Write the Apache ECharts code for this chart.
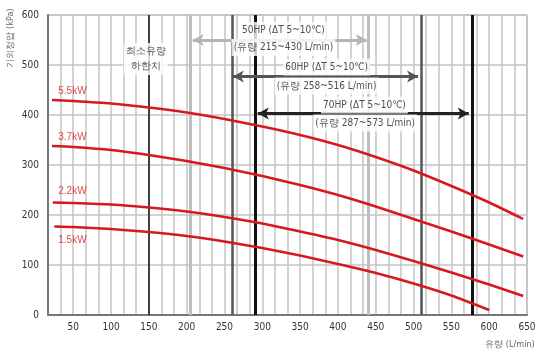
<!DOCTYPE html>
<html><head><meta charset="utf-8">
<script src="https://cdn.jsdelivr.net/npm/echarts@6/dist/echarts.min.js"></script>
<style>html,body{margin:0;padding:0;background:#fff}#c{width:540px;height:359px}</style>
</head><body><div id="c"></div>
<script>
// ---- data ----
const xTickLabels = [50,100,150,200,250,300,350,400,450,500,550,600,650];
const yTickLabels = [0,100,200,300,400,500,600];
const curveNames = ['5.5kW','3.7kW','2.2kW','1.5kW'];
const curve55 = [[22,430],[50,428],[100,423],[150,415],[200,405],[250,392],[300,377],[350,360],[400,340],[450,316],[500,289],[550,258],[600,225],[645,192]];
const curve37 = [[22,338],[50,336],[100,330],[150,320],[200,308],[250,294],[300,278],[350,260],[400,240],[450,217],[500,192],[550,167],[600,141],[645,117]];
const curve22 = [[23,225],[50,224],[100,221],[150,215],[200,207],[250,196],[300,183],[350,167],[400,150],[450,130],[500,108],[550,85],[600,61],[645,38]];
const curve15 = [[25,177],[50,176],[100,172],[150,166],[200,158],[250,147],[300,134],[350,119],[400,102],[450,84],[500,63],[550,39],[600,10]];
const minFlowLine = 150;
const hp50Lines = [205,440];
const hp60Lines = [260,510];
const hp70Lines = [291,577];
const hp50Arrow = [208,438,550];
const hp60Arrow = [261,506,477];
const hp70Arrow = [294,573,403];
const annotTexts = ['50HP (\u0394T 5~10\u2103)','(유량 215~430 L/min)','60HP (\u0394T 5~10\u2103)','(유량 258~516 L/min)','70HP (\u0394T 5~10\u2103)','(유량 287~573 L/min)','최소유량\n하한치'];
const annotAt = [[328,569],[328,535],[385,496],[385,458],[435,420],[436,384],[146,512]];
const curveLabelAt = [[49,447],[49,355],[49,248],[49,150]];

const NARROW = "'Liberation Sans Narrow','Arial Narrow','DejaVu Sans Condensed',sans-serif";
const RED = '#d7191f';

function vline(x, color, width){
  return {xAxis:x, lineStyle:{color:color,width:width,type:'solid'}};
}
function arrow(a, color){
  return [{coord:[a[0],a[2]], lineStyle:{color:color,width:3,type:'solid'}},{coord:[a[1],a[2]]}];
}

const chart = echarts.init(document.getElementById('c'), null, {renderer:'canvas'});
const curves = [curve55,curve37,curve22,curve15];
const series = curves.map((d,i)=>({
  name: curveNames[i], type:'line', data:d, smooth:0.2, symbol:'none', z:5,
  lineStyle:{color:RED,width:2.5}
}));
series.push({
  type:'line', data:[], z:3, silent:true,
  markLine:{
    silent:true, symbol:['none','none'], animation:false,
    label:{show:false},
    data:[
      vline(minFlowLine,'#111',1.5),
      vline(hp50Lines[0],'#bdbdbd',3), vline(hp50Lines[1],'#bdbdbd',3),
      vline(hp60Lines[0],'#555',2.5), vline(hp60Lines[1],'#555',2.5),
      vline(hp70Lines[0],'#111',3), vline(hp70Lines[1],'#111',3)
    ]
  }
});
series.push({
  type:'line', data:[], z:6, silent:true,
  markLine:{
    silent:true, symbol:['arrow','arrow'], symbolSize:[9,11], animation:false,
    label:{show:false},
    data:[ arrow(hp50Arrow,'#b5b5b5'), arrow(hp60Arrow,'#555'), arrow(hp70Arrow,'#222') ]
  }
});
series.push({
  type:'scatter', z:10, symbolSize:0, silent:true,
  itemStyle:{color:'transparent'},
  data: annotAt.map((p,i)=>[p[0],p[1],annotTexts[i]]),
  label:{show:true, position:'inside', formatter:p=>p.data[2], color:'#222', fontSize:10,
    fontFamily:NARROW, backgroundColor:'#fff', padding:[1,2], lineHeight:15, align:'center', verticalAlign:'middle'}
});
series.push({
  type:'scatter', z:10, symbolSize:0, silent:true,
  itemStyle:{color:'transparent'},
  data: curveLabelAt.map((p,i)=>[p[0],p[1],curveNames[i]]),
  label:{show:true, position:'inside', formatter:p=>p.data[2], color:RED, fontSize:10,
    fontFamily:"'Liberation Sans',Arial,sans-serif", align:'center', verticalAlign:'middle'}
});

chart.setOption({
  animation:false,
  backgroundColor:'#fff',
  grid:{left:48,right:13,top:15,bottom:44,show:true,borderColor:'#999',borderWidth:1},
  xAxis:{
    type:'value', min:50/3, max:650, interval:50/3,
    axisLine:{show:true,lineStyle:{color:'#777',width:2}},
    axisTick:{show:false},
    splitLine:{show:true,lineStyle:{color:'#c4c4c4',width:1.5}},
    axisLabel:{margin:7,color:'#333',fontSize:10,fontFamily:NARROW,
      formatter:v=>{const r=Math.round(v/50)*50; return (Math.abs(v-r)<0.5 && xTickLabels.indexOf(r)>=0)? String(r):'';}}
  },
  yAxis:{
    type:'value', min:0, max:600, interval:100,
    axisLine:{show:true,lineStyle:{color:'#777',width:2}},
    axisTick:{show:false},
    splitLine:{show:true,lineStyle:{color:'#c4c4c4',width:1.5}},
    axisLabel:{margin:9,color:'#333',fontSize:10,fontFamily:NARROW,
      formatter:v=>yTickLabels.indexOf(v)>=0?String(v):''}
  },
  graphic:[
    {type:'text', x:11, y:38, rotation:Math.PI/2,
      style:{text:'기외정압 (kPa)', fill:'#666', fontSize:9, fontFamily:NARROW, align:'center', verticalAlign:'middle'}},
    {type:'text', x:510, y:345,
      style:{text:'유량 (L/min)', fill:'#666', fontSize:9, fontFamily:NARROW, align:'center', verticalAlign:'middle'}}
  ],
  series:series
});
</script>
</body></html>
